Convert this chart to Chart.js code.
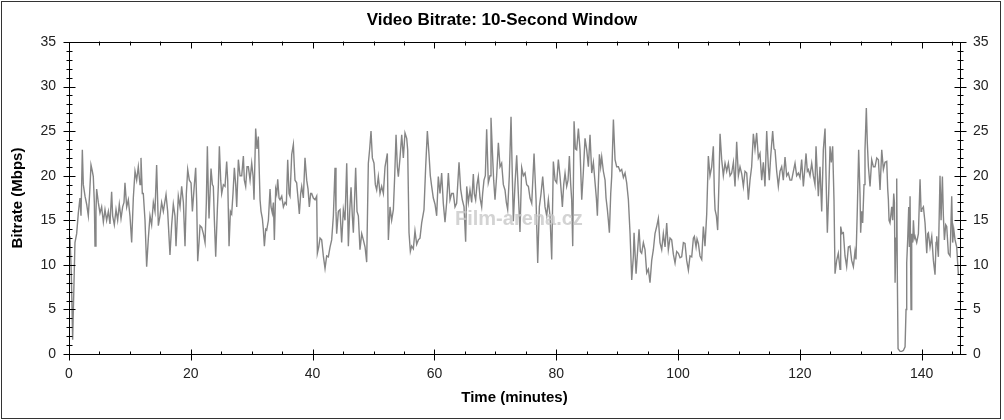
<!DOCTYPE html>
<html><head><meta charset="utf-8">
<script src="https://cdn.jsdelivr.net/npm/chart.js@4/dist/chart.umd.min.js"></script>
<style>html,body{margin:0;padding:0;background:#fff;}canvas{display:block;}</style>
</head><body>
<canvas id="c" width="1004" height="420"></canvas>
<script>
const chartTitle = 'Video Bitrate: 10-Second Window';
const xAxisTitle = 'Time (minutes)';
const yAxisTitle = 'Bitrate (Mbps)';
const watermarkText = 'Film-arena.cz';

const timeMinutes = [
0.16,0.38,0.6,0.82,0.98,1.26,1.53,1.8,1.97,2.19,
2.35,2.63,2.9,3.17,3.39,3.61,3.83,3.99,4.16,4.27,
4.43,4.54,4.81,5.09,5.36,5.64,5.91,6.18,6.46,6.73,
7.0,7.17,7.44,7.72,7.99,8.26,8.54,8.81,9.03,9.19,
9.47,9.74,10.01,10.29,10.56,10.84,11.11,11.38,11.66,11.82,
12.04,12.2,12.48,12.75,13.03,13.3,13.57,13.85,14.12,14.39,
14.67,14.94,15.21,15.49,15.93,16.2,16.58,16.86,17.13,17.4,
17.57,17.95,18.23,18.5,18.78,19.05,19.27,19.49,19.76,20.04,
20.26,20.53,20.8,20.97,21.13,21.35,21.51,21.79,22.06,22.34,
22.55,22.72,22.88,22.99,23.32,23.54,23.7,23.87,24.09,24.36,
24.53,24.69,24.91,25.07,25.35,25.62,25.89,26.06,26.28,26.5,
26.71,26.93,27.15,27.37,27.54,27.81,28.08,28.36,28.63,28.79,
29.01,29.23,29.45,29.73,30.0,30.22,30.38,30.65,30.87,31.09,
31.26,31.37,31.53,31.75,31.91,32.08,32.3,32.46,32.74,33.01,
33.17,33.39,33.56,33.72,33.94,34.1,34.27,34.49,34.65,34.93,
35.2,35.47,35.69,35.91,36.13,36.29,36.57,36.84,37.0,37.11,
37.38,37.6,37.82,38.04,38.21,38.48,38.75,39.03,39.25,39.46,
39.68,39.85,40.12,40.4,40.67,40.78,41.0,41.22,41.49,41.76,
42.04,42.31,42.58,42.86,43.13,43.41,43.68,43.84,43.95,44.23,
44.5,44.77,45.05,45.32,45.6,45.87,46.09,46.31,46.52,46.69,
47.07,47.29,47.51,47.78,48.06,48.33,48.61,48.88,49.15,49.37,
49.59,49.81,50.08,50.3,50.52,50.79,51.07,51.34,51.62,51.89,
52.27,52.44,52.71,52.98,53.26,53.48,53.7,53.91,54.08,54.35,
54.63,54.9,55.17,55.45,55.61,55.83,56.05,56.26,56.54,56.81,
57.09,57.36,57.63,57.91,58.29,58.56,58.84,59.11,59.33,59.55,
59.82,60.1,60.37,60.64,60.92,61.19,61.46,61.74,62.01,62.29,
62.56,62.83,63.11,63.38,63.65,64.04,64.31,64.58,64.86,65.13,
65.3,65.57,65.84,66.12,66.39,66.55,66.77,66.99,67.21,67.49,
67.76,67.92,68.14,68.36,68.58,68.85,69.13,69.29,69.51,69.73,
69.95,70.22,70.5,70.77,71.04,71.32,71.59,71.81,72.03,72.3,
72.58,72.79,72.96,73.23,73.51,73.78,74.05,74.33,74.61,74.88,
75.15,75.43,75.7,75.98,76.36,76.69,76.96,77.23,77.51,77.78,
78.0,78.16,78.44,78.71,78.99,79.26,79.53,79.81,80.08,80.35,
80.63,80.85,81.01,81.23,81.45,81.72,81.94,82.16,82.38,82.54,
82.71,82.93,83.15,83.36,83.64,83.91,84.19,84.46,84.73,85.01,
85.28,85.55,85.83,86.1,86.38,86.59,86.76,86.92,87.09,87.3,
87.47,87.74,88.02,88.18,88.4,88.56,88.73,88.95,89.11,89.39,
89.66,89.93,90.21,90.48,90.75,91.03,91.3,91.57,91.85,92.12,
92.4,92.67,92.78,93.11,93.6,93.82,94.03,94.31,94.58,94.86,
95.13,95.4,95.68,95.95,96.22,96.5,96.77,97.04,97.32,97.59,
97.87,98.14,98.41,98.69,98.96,99.23,99.51,99.78,100.06,100.33,
100.6,100.88,101.15,101.42,101.7,101.97,102.25,102.52,102.68,102.96,
103.12,103.34,103.61,103.89,104.16,104.43,104.71,104.98,105.25,105.53,
105.8,105.97,106.08,106.3,106.51,106.73,106.9,107.17,107.44,107.72,
107.99,108.27,108.54,108.81,109.09,109.36,109.63,109.91,110.18,110.46,
110.73,111.0,111.28,111.55,111.82,112.09,112.37,112.64,112.91,113.19,
113.46,113.74,114.01,114.28,114.56,114.83,114.99,115.21,115.54,115.76,
115.93,116.2,116.47,116.75,117.02,117.29,117.57,117.84,118.11,118.39,
118.66,118.94,119.21,119.48,119.76,120.03,120.3,120.58,120.85,121.02,
121.23,121.4,121.67,121.95,122.22,122.49,122.66,122.88,123.04,123.31,
123.59,123.86,124.14,124.3,124.52,124.74,124.96,125.17,125.39,125.61,
125.78,126.05,126.32,126.6,126.71,126.93,127.15,127.42,127.69,127.97,
128.24,128.51,128.79,129.06,129.22,129.44,129.66,129.88,129.99,130.15,
130.32,130.54,130.7,130.92,131.08,131.26,131.53,131.8,132.08,132.35,
132.63,132.9,133.17,133.45,133.72,133.99,134.27,134.43,134.54,134.65,
134.81,135.09,135.25,135.42,135.53,135.64,135.8,135.91,136.02,136.13,
136.46,136.73,137.0,137.28,137.44,137.55,137.72,137.88,137.99,138.1,
138.26,138.37,138.54,138.65,138.81,138.92,139.19,139.47,139.74,139.91,
140.01,140.29,140.56,140.84,141.0,141.11,141.38,141.66,141.93,142.2,
142.37,142.48,142.75,143.02,143.19,143.41,143.57,143.74,143.95,144.12,
144.39,144.67,144.94,145.1,145.27,145.49,145.76,146.03
];

const bitrateMbps = [
13.2,9,1.6,8,12.5,13.5,15.8,17.5,15.5,22.9,
19,17.7,16.8,15.5,18,21.2,20.5,19.9,17,12.1,
16,18.5,17.0,15.8,16.5,14.8,16.2,15.0,16.0,14.6,
18.2,15.5,14.5,16.2,15.0,16.8,15.2,16.5,17.0,19.2,
16.5,17.3,15.5,12.5,17.5,20.5,19.5,21.0,19.0,22.0,
18.0,18.0,15.0,9.8,13.0,15.5,14.5,17.0,16.0,21.2,
14.4,15.5,17.0,16.0,17.9,16.0,11.1,14.5,16.8,15.5,
12.1,17.7,16.5,18.8,17.0,12.1,18.0,20.7,19.5,19.2,
16.0,18.5,20.9,17.0,10.4,12.5,14.4,14.2,13.5,12.5,
17.0,23.3,18.0,15.2,20.8,19.0,18.8,15.0,10.9,16.2,
19.0,23.3,19.5,18.0,19.0,18.8,21.6,19.5,12.1,16.0,
15.7,18.0,20.9,19.0,16.5,21.8,20.0,20.0,22.2,19.5,
18.8,21.0,21.0,19.5,21.4,20.0,17.3,25.3,23.0,24.4,
20.0,17.3,16.0,15.2,14.0,12.1,14.0,13.9,15.0,18.5,
16.5,15.8,17.0,12.8,18.5,18.0,19.6,17.5,17.3,17.7,
16.5,17.0,16.8,21.8,18.0,17.7,22.4,23.5,21.0,19.5,
19.2,17.5,15.7,18.0,18.8,17.5,22.0,19.5,18.5,16.5,
18.0,18.0,17.5,17.3,17.7,11.3,12.0,13.0,12.8,11.0,
9.6,11.0,10.9,12.0,12.8,15.5,20.9,16.0,13.5,16.0,
16.2,12.5,16.2,15.0,21.4,12.1,16.0,18.7,15.5,13.6,
20.9,16.0,15.5,11.7,13.5,12.8,12.0,10.3,21.4,23.0,
25.0,22.0,21.4,19.0,18.4,19.9,18.0,18.8,18.0,21.0,
22.5,12.8,16.5,15.0,16.2,20.0,24.6,21.0,19.9,22.0,
24.6,22.0,24.8,24.2,22.9,13.6,11.5,12.1,11.8,13.8,
12.3,12.8,13.0,14.7,16.2,20.9,25.0,22.4,20.0,18.8,
17.5,16.8,15.5,19.9,18.0,20.3,16.9,14.8,17.0,20.3,
17.3,18.0,18.0,16.5,16.9,21.5,18.5,17.3,16.5,12.6,
18.8,17.0,18.4,17.0,20.2,18.0,17.3,19.0,19.9,17.5,
16.5,18.0,19.5,20.0,25.2,19.2,20.0,26.5,22.9,19.5,
17.3,20.0,23.7,21.0,21.4,19.0,18.4,17.0,16.2,20.0,
26.6,20.0,14.9,19.0,22.3,18.0,13.7,20.9,20.0,20.3,
19.0,18.8,17.5,16.9,22.5,17.3,10.2,16.5,18.0,19.9,
18.0,16.5,15.5,17.3,15.4,10.6,21.6,19.5,19.2,21.8,
19.9,18.0,16.5,19.0,20.3,18.8,19.5,22.2,19.0,17.3,
12.1,26.1,23.0,22.9,25.3,22.9,17.3,20.5,24.2,22.9,
21.0,24.6,20.3,21.5,19.2,17.5,15.5,19.0,22.4,21.0,
22.1,20.5,19.5,17.5,16.2,15.0,13.6,18.0,19.9,26.3,
21.8,21.0,21.0,20.5,20.7,19.8,20.3,19.2,17.3,13.6,
8.3,11.0,13.6,9.0,14.0,11.5,11.3,12.5,11.7,9.1,
9.5,8.0,10.5,11.7,13.5,14.3,15.2,12.5,11.7,13.5,
12.0,14.7,11.7,13.0,12.8,11.2,10.2,11.5,11.3,10.8,
10.9,12.5,12.4,10.5,9.4,11.0,10.9,13.0,13.2,12.0,
12.9,12.4,11.0,10.6,14.3,12.1,15.7,22.2,20.0,21.0,
23.3,18.0,16.2,15.5,13.9,19.5,24.7,21.8,20.0,21.4,
20.5,21.4,20.0,20.3,21.5,18.8,23.8,20.0,21.0,20.2,
18.8,20.5,20.3,17.3,19.5,21.0,24.7,23.0,24.8,22.0,
22.5,19.5,21.5,18.8,25.0,21.0,19.5,22.1,25.0,23.0,
22.9,20.5,18.8,20.5,21.0,19.5,22.1,20.0,20.3,19.5,
19.5,20.5,21.4,20.0,20.3,19.8,21.8,18.8,21.0,22.5,
20.5,20.7,20.0,21.4,20.0,19.0,23.3,20.0,17.7,21.0,
16.0,22.9,25.3,20.0,13.6,18.0,23.3,21.5,23.3,17.3,
9.0,10.5,11.3,9.5,14.3,13.5,13.6,11.0,9.8,12.0,
12.1,10.5,9.8,11.5,10.6,16.2,22.9,18.0,13.6,16.0,
14.7,19.0,22.9,27.6,23.7,21.0,18.8,21.8,21.0,21.0,
22.0,21.8,18.4,22.9,20.7,21.5,21.6,18.5,17.3,15.0,
14.7,16.5,15.0,18.0,17.0,8.0,13.0,19.7,8.0,0.6,
0.3,0.3,0.4,0.8,5.0,10.2,13.0,16.5,12.0,17.7,
5.0,13.5,12.5,15.0,13.0,13.2,12.5,13.5,19.6,16.0,
16.2,16.5,14.7,11.3,13.5,13.6,12.0,13.2,10.5,8.9,
12.5,13.2,10.9,20.0,15.0,19.9,15.5,12.8,14.5,14.3,
11.3,11.0,17.7,12.5,14.0,12.8,12.0,8.9
];

const xTickLabels = [0, 20, 40, 60, 80, 100, 120, 140];
const yTickLabels = [0, 5, 10, 15, 20, 25, 30, 35];

const FONT = "'Liberation Sans', Arial, sans-serif";
const points = timeMinutes.map((t, i) => ({ x: t, y: bitrateMbps[i] }));

const framePlugin = {
  id: 'frame',
  afterDatasetsDraw(chart) {
    const { ctx } = chart;
    ctx.save();
    ctx.font = 'bold 20px ' + FONT;
    ctx.fillStyle = 'rgba(200,200,200,0.8)';
    ctx.textBaseline = 'middle';
    ctx.fillText(watermarkText, 455, 219);
    ctx.restore();
  },
  afterDraw(chart) {
    const { ctx, chartArea: a, scales } = chart;
    const x = scales.x, y = scales.y;
    ctx.save();
    ctx.strokeStyle = '#000';
    ctx.lineWidth = 1;
    const L = Math.round(a.left) + 0.5, R = Math.round(a.right) + 0.5;
    const T = Math.round(a.top) + 0.5, B = Math.round(a.bottom) + 0.5;
    ctx.strokeRect(L, T, R - L, B - T);
    ctx.beginPath();
    for (let m = 0; m <= x.max; m += 5) {
      const px = Math.round(x.getPixelForValue(m)) + 0.5;
      const major = xTickLabels.includes(m);
      ctx.moveTo(px, B - (major ? 5 : 3)); ctx.lineTo(px, B + (major ? 6 : 0));
      ctx.moveTo(px, T + (major ? 6 : 3)); ctx.lineTo(px, T - (major ? 0 : 1));
    }
    for (let v = 0; v <= y.max; v += 1) {
      const py = Math.round(y.getPixelForValue(v)) + 0.5;
      const len = yTickLabels.includes(v) ? 6 : 3;
      ctx.moveTo(L - len, py); ctx.lineTo(L + len, py);
      ctx.moveTo(R - len, py); ctx.lineTo(R + len, py);
    }
    ctx.stroke();
    ctx.strokeStyle = '#333';
    ctx.strokeRect(1.5, 1.5, 999, 417);
    ctx.restore();
  }
};

new Chart(document.getElementById('c'), {
  type: 'line',
  data: {
    datasets: [{
      data: points,
      borderColor: '#858585',
      borderWidth: 1.4,
      pointRadius: 0,
      tension: 0,
      fill: false
    }]
  },
  plugins: [framePlugin],
  options: {
    responsive: false,
    animation: false,
    devicePixelRatio: 1,
    layout: { padding: 0 },
    plugins: {
      legend: { display: false },
      tooltip: { enabled: false },
      title: {
        display: true, text: chartTitle, color: '#000',
        font: { family: FONT, size: 17, weight: 'bold' },
        padding: { top: 9.8, bottom: 11.8 }
      }
    },
    scales: {
      x: {
        type: 'linear', position: 'bottom', min: 0, max: 146.3,
        grid: { display: false, drawTicks: false }, border: { display: false },
        ticks: { stepSize: 20, includeBounds: false, padding: 12, color: '#222',
          font: { family: FONT, size: 14 }, maxRotation: 0, autoSkip: false },
        title: { display: true, text: xAxisTitle, color: '#000',
          font: { family: FONT, size: 15, weight: 'bold' }, padding: { top: 0, bottom: 13 } },
        afterFit(s) { s.height = 66; }
      },
      y: {
        type: 'linear', position: 'left', min: 0, max: 35,
        grid: { display: false, drawTicks: false }, border: { display: false },
        ticks: { stepSize: 5, padding: 13, color: '#222', font: { family: FONT, size: 14 } },
        title: { display: true, text: yAxisTitle, color: '#000',
          font: { family: FONT, size: 15, weight: 'bold' }, padding: { top: 9, bottom: 0 } },
        afterFit(s) { s.width = 69; }
      },
      y2: {
        type: 'linear', position: 'right', min: 0, max: 35,
        grid: { display: false, drawTicks: false }, border: { display: false },
        ticks: { stepSize: 5, padding: 13, color: '#222', font: { family: FONT, size: 14 } },
        afterFit(s) { s.width = 44; }
      }
    }
  }
});
</script>
</body></html>
